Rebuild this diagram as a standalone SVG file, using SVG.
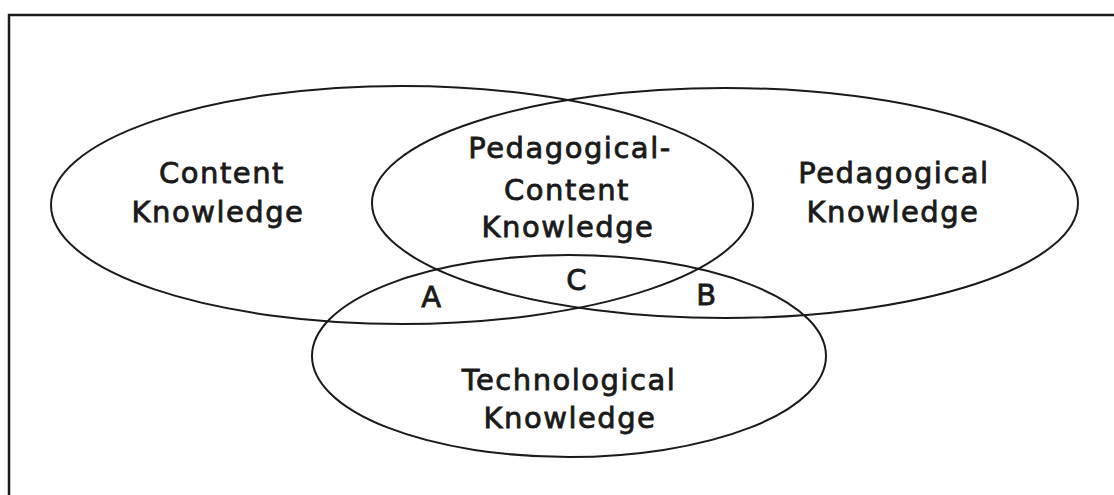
<svg xmlns="http://www.w3.org/2000/svg" width="1114" height="495" viewBox="0 0 1114 495">
<style>
.e{fill:none;stroke:#1a1a1a;stroke-width:2}
.t{font-family:"DejaVu Sans","Liberation Sans",sans-serif;font-size:29px;fill:#1a1a1a;stroke:#1a1a1a;stroke-width:0.8px;text-anchor:middle;letter-spacing:1.5px}
</style>
<rect width="1114" height="495" fill="#fff"/>
<path d="M9,495 V15 H1114" fill="none" stroke="#1a1a1a" stroke-width="2.5"/>
<g id="content-knowledge">
<ellipse class="e" cx="402" cy="205" rx="351" ry="119"/>
<text class="t" x="222" y="183">Content</text>
<text class="t" x="218" y="222">Knowledge</text>
</g>
<g id="pedagogical-knowledge">
<ellipse class="e" cx="725" cy="203" rx="353" ry="115"/>
<text class="t" x="894" y="183">Pedagogical</text>
<text class="t" x="893" y="222">Knowledge</text>
</g>
<g id="technological-knowledge">
<ellipse class="e" cx="569" cy="356" rx="257" ry="101"/>
<text class="t" x="569" y="390">Technological</text>
<text class="t" x="570" y="428">Knowledge</text>
</g>
<g id="pck">
<text class="t" x="570" y="158">Pedagogical-</text>
<text class="t" x="567" y="200">Content</text>
<text class="t" x="568" y="237">Knowledge</text>
</g>
<g id="region-a"><text class="t" x="432" y="307">A</text></g>
<g id="region-c"><text class="t" x="577" y="290">C</text></g>
<g id="region-b"><text class="t" x="707" y="305">B</text></g>
<g id="connectors"></g>
</svg>
